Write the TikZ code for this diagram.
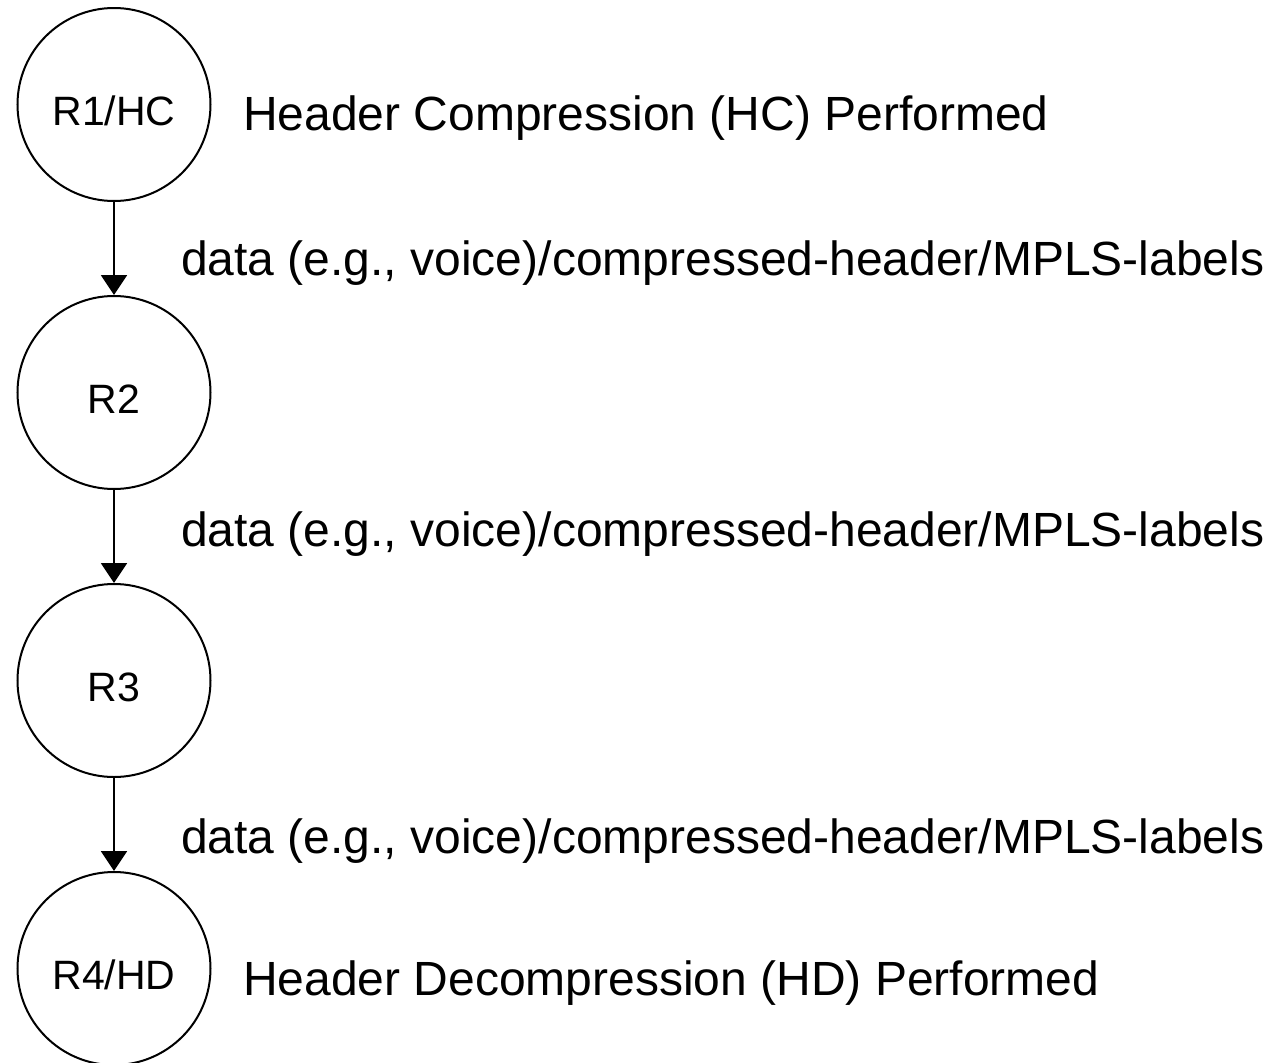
\documentclass[tikz,border=0pt]{standalone}
\usepackage{fontspec}
\setmainfont{Liberation Sans}
\usetikzlibrary{arrows.meta}
\begin{document}
\begin{tikzpicture}[x=1pt,y=1pt,
  router/.style={draw=black, line width=2pt, circle, minimum size=193pt, inner sep=0pt,
    text height=42pt, text depth=0pt, font=\fontsize{41}{48}\selectfont},
  caption/.style={anchor=base west, inner sep=0pt, font=\fontsize{48}{58}\selectfont},
  flow/.style={line width=2pt, -{Triangle[width=26pt,length=20pt]}}]
\useasboundingbox (0,0) rectangle (1272,-1063);
\node[router] (r1) at (114,-104.5) {R1/HC};
\node[router] (r2) at (114,-392.5) {R2};
\node[router] (r3) at (114,-680.5) {R3};
\node[router] (r4) at (114,-968.5) {R4/HD};
\draw[flow] (r1.south) -- (r2.north);
\draw[flow] (r2.south) -- (r3.north);
\draw[flow] (r3.south) -- (r4.north);
\node[caption] (t1) at (243,-130) {Header Compression (HC) Performed};
\node[caption] (t2) at (181,-275) {data (e.g., voice)/compressed-header/MPLS-labels};
\node[caption] (t3) at (181,-546) {data (e.g., voice)/compressed-header/MPLS-labels};
\node[caption] (t4) at (181,-853) {data (e.g., voice)/compressed-header/MPLS-labels};
\node[caption] (t5) at (243,-995) {Header Decompression (HD) Performed};
\end{tikzpicture}
\end{document}
